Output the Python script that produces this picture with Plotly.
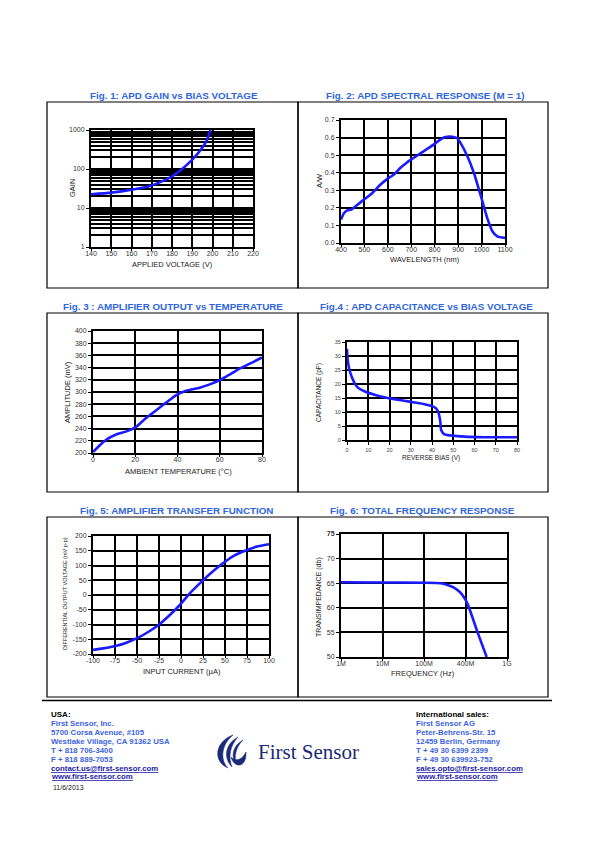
import plotly.graph_objects as go

W, H = 595, 842
OFF = 8  # page body margin of the browser: compensate so positions match the page

# ---------------- DATA ----------------
# Fig 1: APD gain vs bias voltage
gain_voltage = [140, 150, 160, 170, 175, 180, 185, 190, 193, 195, 197, 198, 199]
gain_values = [22.5, 24.8, 29.5, 38, 48, 65, 100, 174, 260, 356, 520, 705, 1000]
gain_xticks = [140, 150, 160, 170, 180, 190, 200, 210, 220]
gain_yticks = [1, 10, 100, 1000]

# Fig 2: APD spectral response
wl_nm = [400, 413, 427, 444, 462, 498, 534, 569, 598, 626, 654, 683, 711, 754, 797,
         825, 846, 875, 896, 910, 939, 967, 995, 1024, 1046, 1067, 1100]
resp_aw = [0.133, 0.171, 0.186, 0.19, 0.209, 0.247, 0.285, 0.333, 0.365, 0.39, 0.428,
           0.46, 0.485, 0.523, 0.561, 0.59, 0.603, 0.605, 0.596, 0.57, 0.495, 0.40,
           0.276, 0.143, 0.067, 0.038, 0.029]

# Fig 3: amplifier output vs temperature
temp_c = [0, 3.5, 6.7, 10.7, 15.5, 20.2, 25, 29.8, 34.6, 39.4, 44.1, 50.5, 55.3, 60.1,
          64.9, 69.6, 76, 80]
amp_mv = [201.6, 213.6, 222.8, 230, 235, 242.4, 257, 269.6, 282.6, 295, 302, 307, 312.5,
          319.6, 329, 338.6, 349.5, 356.5]

# Fig 4: APD capacitance vs bias voltage
rev_bias_v = [0, 0.3, 1.1, 2.4, 3.5, 5, 8.2, 12.9, 17.6, 22.3, 27, 31.8, 36.5, 40.4, 42,
              43.1, 43.9, 44.3, 45.9, 49, 55.3, 64.8, 80]
cap_pf = [32.6, 28.8, 25.2, 22.2, 20.4, 18.8, 17.4, 16.2, 15.3, 14.6, 14.0, 13.4, 12.8,
          12.0, 11.2, 9.6, 6.6, 3.6, 2.0, 1.6, 1.2, 1.0, 1.0]

# Fig 5: amplifier transfer function
in_current_ua = [-100, -88.6, -73.4, -62, -48.8, -35.5, -24.1, -12.7, -1.3, 10, 21.4, 32.8,
                 46.1, 59.4, 72.7, 86, 100]
out_voltage_mv = [-186, -181, -172, -161.6, -144.6, -122, -98, -67.8, -33.9, 5.6, 39.5, 71,
                  104, 132, 150, 164, 172]
current_ticks = [-100, -75, -50, -25, 0, 25, 50, 75, 100]
voltage_ticks = [-200, -150, -100, -50, 0, 50, 100, 150, 200]

# Fig 6: total frequency response (evenly spaced frequency ticks)
freq_labels = ["1M", "10M", "100M", "400M", "1G"]
freq_tick_pos = [0, 1, 2, 3, 4]
freq_pos = [0, 1, 2, 2.4, 2.55, 2.7, 2.85, 2.95, 3.05, 3.3, 3.51]
transimp_db = [65.2, 65.15, 65.1, 65.0, 64.7, 64.2, 63.3, 62.3, 60.8, 54.8, 50.0]
transimp_ticks = [50, 55, 60, 65, 70, 75]

# ---------------- STYLE ----------------
FONT = "Liberation Sans"
CURVE = "#1a1aff"
TITLE_BLUE = "#2f66e0"
FOOT_BLUE = "#3d63e0"
LINK_BLUE = "#1c1ca8"


def dx(a, b):
    return [(a - OFF) / W, (b - OFF) / W]


def dy(top, bottom):
    return [1 - (bottom - OFF) / H, 1 - (top - OFF) / H]


def axis(domain, anchor, **kw):
    d = dict(domain=domain, anchor=anchor, showgrid=True, gridcolor="black", gridwidth=2.2,
             showline=True, mirror=True, linecolor="black", linewidth=2,
             ticks="outside", ticklen=3, tickwidth=1, tickcolor="black",
             tickfont=dict(family=FONT, size=7, color="#333"), zeroline=False,
             fixedrange=True, automargin=False)
    d.update(kw)
    return d


def xax(domain, anchor, **kw):
    base = dict(ticklen=2, ticklabelstandoff=-3)
    base.update(kw)
    return axis(domain, anchor, **base)


def yax(domain, anchor, **kw):
    base = dict(ticklen=3, ticklabelstandoff=0)
    base.update(kw)
    return axis(domain, anchor, **base)


fig = go.Figure()

series = [
    (gain_voltage, gain_values, "x", "y"),
    (wl_nm, resp_aw, "x2", "y2"),
    (temp_c, amp_mv, "x3", "y3"),
    (rev_bias_v, cap_pf, "x4", "y4"),
    (in_current_ua, out_voltage_mv, "x5", "y5"),
    (freq_pos, transimp_db, "x6", "y6"),
]
for xs, ys, xa, ya in series:
    fig.add_trace(go.Scatter(x=xs, y=ys, xaxis=xa, yaxis=ya, mode="lines",
                             line=dict(color=CURVE, width=2.6, shape="spline", smoothing=0.6),
                             showlegend=False, hoverinfo="skip"))

# overlay pixel-space axis for decorations
fig.add_trace(go.Scatter(x=[None], y=[None], xaxis="x7", yaxis="y7", showlegend=False,
                         hoverinfo="skip"))

minor_log = [m * d for d in (1, 10, 100) for m in range(2, 10)]
small_font = dict(family=FONT, size=5.5, color="#444")

fig.update_layout(
    width=W, height=H, margin=dict(l=0, r=0, t=0, b=0, pad=0, autoexpand=False),
    autosize=False, showlegend=False,
    paper_bgcolor="white", plot_bgcolor="rgba(0,0,0,0)",
    font=dict(family=FONT, color="#222"),
    xaxis=xax(dx(91, 253), "y", range=[140, 220], tickvals=gain_xticks),
    yaxis=yax(dy(130, 247), "x", type="log", range=[0, 3], tickvals=gain_yticks,
              ticktext=[str(v) for v in gain_yticks],
              minor=dict(tickvals=minor_log, showgrid=True, gridcolor="black",
                         gridwidth=1.8, ticks="")),
    xaxis2=xax(dx(341, 505), "y2", range=[400, 1100], dtick=100, tick0=400),
    yaxis2=yax(dy(120, 243), "x2", range=[0, 0.7], dtick=0.1, tickformat=".1f"),
    xaxis3=xax(dx(93, 262), "y3", range=[0, 80], dtick=20),
    yaxis3=yax(dy(331, 453), "x3", range=[200, 400], dtick=20),
    xaxis4=axis(dx(347, 517), "y4", range=[0, 80], dtick=10, tickfont=small_font,
                ticklen=3),
    yaxis4=axis(dy(342, 440), "x4", range=[0, 35], dtick=5, tickfont=small_font,
                ticklen=3),
    xaxis5=xax(dx(93, 269), "y5", range=[-100, 100], tickvals=current_ticks,
               ticktext=[str(v) for v in current_ticks]),
    yaxis5=yax(dy(536, 654), "x5", range=[-200, 200], tickvals=voltage_ticks,
               ticktext=[str(v) for v in voltage_ticks]),
    xaxis6=xax(dx(341, 507), "y6", range=[0, 4], tickvals=freq_tick_pos, ticktext=freq_labels),
    yaxis6=yax(dy(534, 657), "x6", range=[50, 75], tickvals=transimp_ticks,
               ticktext=[("<b>%d</b>" % v) if v == 75 else str(v) for v in transimp_ticks]),
    xaxis7=dict(domain=[0, 1], range=[OFF, W + OFF], visible=False, fixedrange=True,
                anchor="y7", automargin=False),
    yaxis7=dict(domain=[0, 1], range=[H + OFF, OFF], visible=False, fixedrange=True,
                anchor="x7", automargin=False),
)

shapes = []
# panel boxes
for (x0, x1) in [(47, 298), (298, 548)]:
    for (y0, y1) in [(102, 288), (313, 492), (517, 697)]:
        shapes.append(dict(type="rect", xref="x7", yref="y7", x0=x0, x1=x1, y0=y0, y1=y1,
                           line=dict(color="black", width=1.2), layer="below"))
# footer rule
shapes.append(dict(type="line", xref="x7", yref="y7", x0=42, x1=552, y0=700.5, y1=700.5,
                   line=dict(color="black", width=1.6)))
# logo emblem
NAVY = "#1b2a78"
logo_paths = [
    "M 233 735 C 214 742 213 762 228 768 C 220 760 221 745 233 735 Z",
    "M 238 737 C 225 744 223 758 232 767 C 228 757 230 746 238 737 Z",
    "M 243 740 C 232 746 231 757 236 764 C 234 756 236 747 243 740 Z",
    "M 231 757 C 234 769 247 768 246 752 C 242 760 236 762 231 757 Z",
]
for p in logo_paths:
    shapes.append(dict(type="path", xref="x7", yref="y7", path=p,
                       fillcolor=NAVY, line=dict(color=NAVY, width=0.5)))
fig.update_layout(shapes=shapes)

ann = []


def text(x, y, s, size=7, color="#222", bold=False, anchor="center", angle=0, family=FONT):
    ann.append(dict(xref="x7", yref="y7", x=x, y=y, text=("<b>%s</b>" % s) if bold else s,
                    showarrow=False, xanchor=anchor, yanchor="middle", textangle=angle,
                    borderpad=0, font=dict(family=family, size=size, color=color)))


titles = [
    (174, 95, "Fig. 1: APD GAIN vs BIAS VOLTAGE"),
    (425, 95, "Fig. 2: APD SPECTRAL RESPONSE (M = 1)"),
    (173, 306, "Fig. 3 : AMPLIFIER OUTPUT vs TEMPERATURE"),
    (426, 306, "Fig.4 : APD CAPACITANCE vs BIAS VOLTAGE"),
    (176, 510, "Fig. 5: AMPLIFIER TRANSFER FUNCTION"),
    (422, 510, "Fig. 6: TOTAL FREQUENCY RESPONSE"),
]
for x, y, s in titles:
    text(x, y, s, size=9.8, color=TITLE_BLUE, bold=True)

# axis titles
text(172, 264, "APPLIED VOLTAGE (V)", size=7.5)
text(72, 188, "GAIN", size=7.5, angle=-90)
text(425, 259, "WAVELENGTH (nm)", size=7.5)
text(319, 181, "A/W", size=7.5, angle=-90)
text(178, 471, "AMBIENT TEMPERATURE (°C)", size=7.5)
text(67, 392, "AMPLITUDE (mV)", size=7.5, angle=-90)
text(431, 458, "REVERSE BIAS (V)", size=6.5)
text(319, 393, "CAPACITANCE (pF)", size=6.5, angle=-90)
text(182, 671, "INPUT CURRENT (µA)", size=7.5)
text(65, 594, "DIFFERENTIAL OUTPUT VOLTAGE (mV p-p)", size=5.5, angle=-90)
text(423, 673, "FREQUENCY (Hz)", size=7.5)
text(319, 597, "TRANSIMPEDANCE (db)", size=7, angle=-90)

# footer
usa = ["First Sensor, Inc.", "5700 Corsa Avenue, #105", "Westlake Village, CA 91362 USA",
       "T + 818 706-3400", "F + 818 889-7053"]
intl = ["First Sensor AG", "Peter-Behrens-Str. 15", "12459 Berlin, Germany",
        "T + 49 30 6399 2399", "F + 49 30 639923-752"]
ys = [723.3, 732.3, 741.7, 750.7, 759.3]
LX, RX = 50, 414.5
FS = 7.8
text(LX, 714.3, "USA:", size=8, color="black", bold=True, anchor="left")
text(RX, 714.3, "International sales:", size=8, color="black", bold=True, anchor="left")
for y, a, b in zip(ys, usa, intl):
    text(LX, y, a, size=FS, color=FOOT_BLUE, bold=True, anchor="left")
    text(RX, y, b, size=FS, color=FOOT_BLUE, bold=True, anchor="left")
text(LX, 768, "<u>contact.us@first-sensor.com</u>", size=FS, color=LINK_BLUE, bold=True, anchor="left")
text(LX, 776.3, "<u>www.first-sensor.com</u>", size=FS, color=LINK_BLUE, bold=True, anchor="left")
text(RX, 768, "<u>sales.opto@first-sensor.com</u>", size=FS, color=LINK_BLUE, bold=True, anchor="left")
text(RX, 776.3, "<u>www.first-sensor.com</u>", size=FS, color=LINK_BLUE, bold=True, anchor="left")
text(52, 787.7, "11/6/2013", size=7, color="#222", anchor="left")
text(257, 752, "First Sensor", size=21, color=NAVY, anchor="left", family="Liberation Serif")

fig.update_layout(annotations=ann)

fig.write_html("out.html")
